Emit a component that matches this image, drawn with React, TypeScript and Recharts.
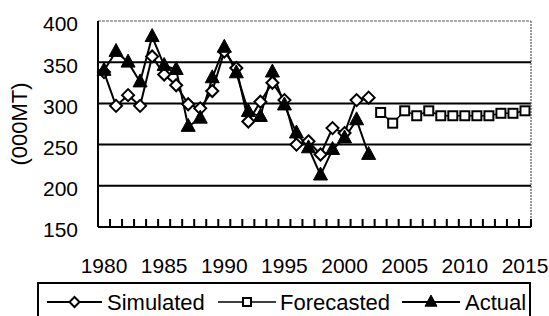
import React from "react";
import { ComposedChart, Line, XAxis, YAxis, ReferenceLine, Legend } from "recharts";

const simYears = [1980, 1981, 1982, 1983, 1984, 1985, 1986, 1987, 1988, 1989, 1990, 1991, 1992, 1993, 1994, 1995, 1996, 1997, 1998, 1999, 2000, 2001, 2002];
const simulated = [338, 297, 310, 297, 357, 335, 322, 299, 294, 315, 363, 343, 278, 302, 325, 304, 250, 254, 238, 270, 264, 304, 307];
const actual = [340, 363, 350, 326, 381, 346, 341, 272, 282, 331, 368, 337, 290, 284, 338, 298, 264, 246, 213, 244, 258, 280, 238];
const forecastYears = [2003, 2004, 2005, 2006, 2007, 2008, 2009, 2010, 2011, 2012, 2013, 2014, 2015];
const forecasted = [289, 276, 291, 285, 291, 285, 285, 285, 285, 285, 288, 288, 291];

const yTicks = [150, 200, 250, 300, 350, 400];
const gridValues = [200, 250, 300, 350];
const allYears = Array.from({ length: 36 }, (_, i) => 1980 + i);
const labelEvery = 5;

type Row = { year: number; simulated?: number; actual?: number; forecasted?: number };
const rows: Row[] = [];
simYears.forEach((y, i) => rows.push({ year: y, simulated: simulated[i], actual: actual[i] }));
forecastYears.forEach((y, i) => rows.push({ year: y, forecasted: forecasted[i] }));

const FONT = "'Liberation Sans', Arial, sans-serif";
const HALF_STEP = 6; // half of one year's width in px (plot 432px / 36 years)

const Diamond = ({ cx, cy, r = 6 }: any) => (
  <path d={`M${cx},${cy - r} L${cx + r},${cy} L${cx},${cy + r} L${cx - r},${cy} Z`} fill="#fff" stroke="#000" strokeWidth={2} />
);
const Square = ({ cx, cy, r = 4.5 }: any) => (
  <rect x={cx - r} y={cy - r} width={2 * r} height={2 * r} fill="#fff" stroke="#000" strokeWidth={2} />
);
const Triangle = ({ cx, cy, r = 7 }: any) => (
  <path d={`M${cx},${cy - r * 1.15} L${cx + r},${cy + r * 0.7} L${cx - r},${cy + r * 0.7} Z`} fill="#000" stroke="#000" strokeWidth={1} />
);

const renderDot = (Shape: any) => (props: any) => {
  if (props.cy == null || props.value == null) return <g key={props.key ?? props.index} />;
  return <Shape key={props.key ?? props.index} cx={props.cx} cy={props.cy} />;
};

const YearTick = (props: any) => {
  const { x, y, payload } = props;
  const v = payload.value;
  const tx = Number(x) + HALF_STEP;
  const ty = Number(y);
  return (
    <g>
      <rect x={tx - 1} y={ty - 8} width={2} height={8} fill="#000" stroke="none" />
      {v % labelEvery === 0 ? (
        <text x={x} y={ty + 38} textAnchor="middle" dominantBaseline="central" fontSize={21} fontFamily={FONT} fill="#000">
          {v}
        </text>
      ) : null}
    </g>
  );
};

const legendItems = [
  { name: "Simulated", shape: Diamond, r: 5, lineW: 2, l0: 47, l1: 102, t: 107 },
  { name: "Forecasted", shape: Square, r: 4, lineW: 1.5, l0: 218, l1: 276, t: 280 },
  { name: "Actual", shape: Triangle, r: 6, lineW: 2, l0: 402, l1: 460, t: 465 },
];

const LegendContent = () => (
  <svg width={549} height={40} style={{ display: "block" }}>
    <rect x={38} y={1} width={492} height={40} fill="#fff" stroke="#000" strokeWidth={2} />
    {legendItems.map((it) => {
      const S = it.shape;
      const cy = 20;
      return (
        <g key={it.name}>
          <line x1={it.l0} y1={cy} x2={it.l1} y2={cy} stroke="#000" strokeWidth={it.lineW} />
          <S cx={(it.l0 + it.l1) / 2} cy={cy} r={it.r} />
          <text x={it.t} y={cy} dominantBaseline="central" fontSize={22} fontFamily={FONT} fill="#000">
            {it.name}
          </text>
        </g>
      );
    })}
  </svg>
);

export default function App() {
  return (
    <div style={{ position: "absolute", left: 0, top: 0, width: 549, height: 316, overflow: "hidden", background: "#fff" }}>
      <ComposedChart width={549} height={316} data={rows} margin={{ top: 21, right: 18, left: 38, bottom: 39 }}>
        <XAxis
          dataKey="year"
          type="number"
          domain={[1979.5, 2015.5]}
          ticks={allYears}
          interval={0}
          tickLine={false}
          tickSize={0}
          tickMargin={0}
          height={50}
          axisLine={{ stroke: "#000", strokeWidth: 2 }}
          tick={<YearTick />}
        />
        <YAxis
          type="number"
          domain={[150, 400]}
          ticks={yTicks}
          interval={0}
          width={60}
          tickLine={false}
          tickMargin={14}
          tickSize={6}
          axisLine={{ stroke: "#000", strokeWidth: 2 }}
          tick={{ fontSize: 21, fontFamily: FONT, fill: "#000", dy: 3 }}
          label={{
            content: () => (
              <text x={19} y={124} transform="rotate(-90 19 124)" textAnchor="middle" dominantBaseline="central" fontSize={22} fontFamily={FONT} fill="#000">
                (000MT)
              </text>
            ),
          }}
        />
        {gridValues.map((g) => (
          <ReferenceLine key={g} y={g} stroke="#000" strokeWidth={2} />
        ))}
        <ReferenceLine y={400} stroke="#555" strokeWidth={1.2} strokeDasharray="3 1" />
        <ReferenceLine x={2015.5} stroke="#555" strokeWidth={1.2} strokeDasharray="2 1" />
        <Line dataKey="simulated" stroke="#000" strokeWidth={2} dot={renderDot(Diamond)} isAnimationActive={false} connectNulls={false} />
        <Line dataKey="forecasted" stroke="#000" strokeWidth={1.5} dot={renderDot(Square)} isAnimationActive={false} connectNulls={false} />
        <Line dataKey="actual" stroke="#000" strokeWidth={2} dot={renderDot(Triangle)} isAnimationActive={false} connectNulls={false} />
        <Legend
          verticalAlign="middle"
          align="center"
          content={<LegendContent />}
          wrapperStyle={{ position: "absolute", left: 0, top: 282, width: 549, height: 40 }}
        />
      </ComposedChart>
    </div>
  );
}
